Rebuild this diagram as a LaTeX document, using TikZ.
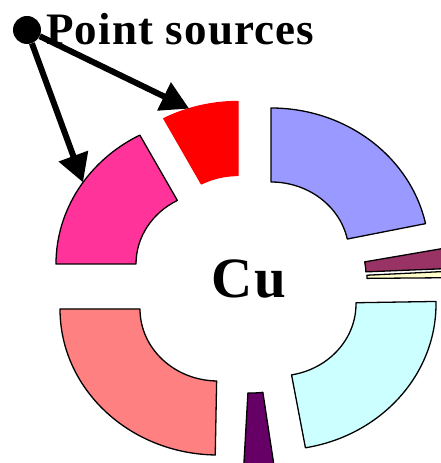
\documentclass[tikz,border=0pt]{standalone}
\usepackage{fontspec}
\setmainfont{Liberation Serif}
\usetikzlibrary{arrows.meta, calc}
\definecolor{lavender}{HTML}{9999FF}
\definecolor{plum}{HTML}{993366}
\definecolor{cream}{HTML}{FFFFCC}
\definecolor{icecyan}{HTML}{CCFFFF}
\definecolor{grape}{HTML}{660066}
\definecolor{salmon}{HTML}{FF8080}
\definecolor{hotpink}{HTML}{FF3399}
\definecolor{signal}{HTML}{FF0000}

\begin{document}
\begin{tikzpicture}[x=1pt, y=1pt,
    title/.style={font=\bfseries\fontsize{45}{50}\selectfont\addfontfeature{LetterSpace=2.6}, inner sep=0pt, anchor=base west},
    metal/.style={font=\bfseries\fontsize{57}{60}\selectfont\addfontfeature{LetterSpace=3}, inner sep=0pt, anchor=base},
    ring/.style={line width=1.3pt, line join=round},
    srcdot/.style={circle, fill=black, inner sep=0pt, minimum size=28pt},
    pointer/.style={line width=6pt, -{Triangle[length=28pt, width=30pt]}},
]
\useasboundingbox (0,0) rectangle (441,463);
\clip (0,0) rectangle (441,463);
% exploded doughnut, each part with its own centre
\foreach \cx/\cy/\sa/\ea/\col/\edge in {271/209/90/12/lavender/black, 288/188/10.5/2.5/plum/black, 289/184/3/0.5/cream/black, 278/159/1/-80/icecyan/black, 252/142/-82/-93/grape/black, 218/154/-91/-180/salmon/black, 214/199/180/118/hotpink/black, 238/215.5/118/90/signal/signal} {
    \draw[ring, draw=\edge, fill=\col] (\cx,\cy) ++(\sa:158 and 146)
        arc[start angle=\sa, end angle=\ea, x radius=158, y radius=146]
        -- ($(\cx,\cy)+(\ea:78 and 72)$)
        arc[start angle=\ea, end angle=\sa, x radius=78, y radius=72] -- cycle;
}
\node[metal] (cu) at (249,165) {Cu};

\node[srcdot] (src) at (27,433) {};
\node[title] (srclabel) at (46,418) {Point sources};
\coordinate (pinkhit) at ($(214,199)+(146:158 and 146)$);
\coordinate (redhit) at ($(238,215.5)+(108:158 and 146)$);
\draw[pointer] (src) -- (pinkhit);
\draw[pointer] (src) -- (redhit);
\end{tikzpicture}
\end{document}
